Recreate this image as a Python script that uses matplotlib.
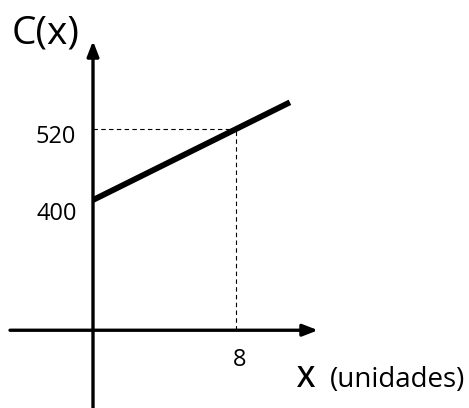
import matplotlib
matplotlib.use("Agg")
import matplotlib.pyplot as plt

# Data: C(x) = 400 + 15x
x_vals = [0, 11]
c_vals = [400, 565]
tick_x = 8
tick_c = 520
intercept = 400
axis_y = 180  # schematic position of horizontal axis

W, H, DPI = 469, 408, 100
fig = plt.figure(figsize=(W / DPI, H / DPI), dpi=DPI)
ax = fig.add_axes([0, 0, 1, 1])
# pixel mapping: x px = 93 + 17.9*x ; y px(top) = 200 - 0.592*(y-400)
sx, sy = 17.9, 0.592
ax.set_xlim(-93 / sx, (W - 93) / sx)
ax.set_ylim(400 - (H - 200) / sy, 400 + 200 / sy)
ax.axis("off")

font = "Open Sans"

# axes with arrows
xl, xr = -83 / sx, (318 - 93) / sx
ax.annotate("", xy=(xr, axis_y), xytext=(xl, axis_y),
            arrowprops=dict(arrowstyle="-|>,head_length=0.9,head_width=0.35",
                            lw=2.4, color="black", shrinkA=0, shrinkB=0))
yb, yt = 400 - (H + 5 - 200) / sy, 400 + (200 - 41) / sy
ax.annotate("", xy=(0, yt), xytext=(0, yb),
            arrowprops=dict(arrowstyle="-|>,head_length=0.9,head_width=0.35",
                            lw=2.4, color="black", shrinkA=0, shrinkB=0))

# dashed guides
ax.plot([0, tick_x], [tick_c, tick_c], ls=(0, (4, 3)), lw=0.8, color="black")
ax.plot([tick_x, tick_x], [axis_y, tick_c], ls=(0, (4, 3)), lw=0.8, color="black")

# main line
ax.plot(x_vals, c_vals, color="black", lw=4.2, solid_capstyle="butt")

# labels
def px_y(p):
    return 400 - (p - 200) / sy

ax.text(-17 / sx, px_y(143), "520", ha="right", va="baseline", fontsize=17, family=font)
ax.text(-16 / sx, px_y(220), "400", ha="right", va="baseline", fontsize=17, family=font)
ax.text((240 - 93) / sx, px_y(366), "8", ha="center", va="baseline", fontsize=17, family=font)
ax.text(-81 / sx, px_y(43), "C(x)", ha="left", va="baseline", fontsize=28, family=font)
ax.text((297 - 93) / sx, px_y(387), "X", ha="left", va="baseline", fontsize=21, family=font,
        fontweight="semibold")
ax.text((330 - 93) / sx, px_y(387), "(unidades)", ha="left", va="baseline", fontsize=20, family=font)

fig.savefig("out.png", dpi=DPI, facecolor="white")
